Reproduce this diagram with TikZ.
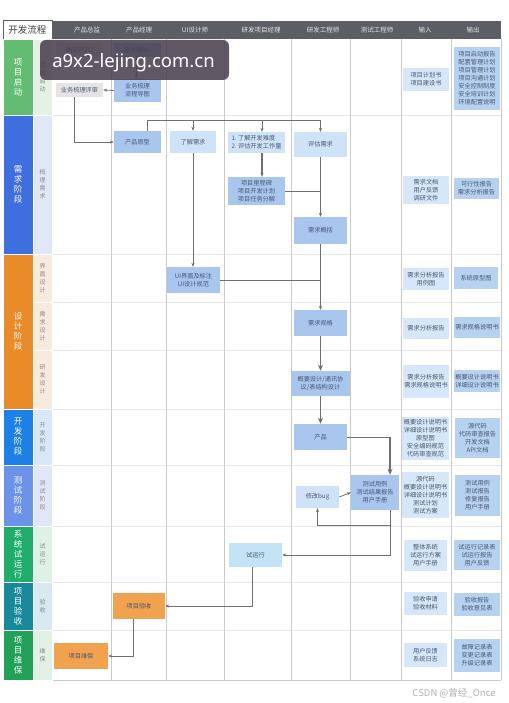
\documentclass[tikz,border=0pt]{standalone}
\usepackage{fontspec}
\newfontfamily\cjk{Noto Sans CJK SC}
\newfontfamily\wmfont{Noto Sans}
\usetikzlibrary{arrows.meta}
\definecolor{hdr}{HTML}{5B5F64}
\definecolor{hdrtxt}{HTML}{E4E4E4}
\definecolor{midb}{HTML}{A9C6EE}
\definecolor{litb}{HTML}{CFE3F8}
\definecolor{inb}{HTML}{D5E7F8}
\definecolor{outb}{HTML}{B7D1F1}
\definecolor{gryb}{HTML}{E4E4E4}
\definecolor{orgb}{HTML}{F0A24E}
\definecolor{txtc}{HTML}{4A5773}
\definecolor{arrc}{HTML}{707070}
\definecolor{trialb}{HTML}{C3E3F6}
\definecolor{gridv}{HTML}{C9C9C9}
\definecolor{gridh}{HTML}{E6E6E6}
\definecolor{subtxt}{HTML}{8A8A8A}
\definecolor{pa}{HTML}{62BD73}\definecolor{sa}{HTML}{E4F1E4}
\definecolor{pb}{HTML}{3F6FDF}\definecolor{sb}{HTML}{E2E7F7}
\definecolor{pc}{HTML}{EA8B2A}\definecolor{sc}{HTML}{F6EBDD}
\definecolor{pd}{HTML}{1D80E6}\definecolor{sd}{HTML}{D9E8F8}
\definecolor{pe}{HTML}{6C93E8}\definecolor{se}{HTML}{E1E7F8}
\definecolor{pf}{HTML}{20AD6B}\definecolor{sf}{HTML}{DDF1E5}
\definecolor{pg}{HTML}{17899A}\definecolor{sg}{HTML}{D8E9F0}
\definecolor{ph}{HTML}{21A057}\definecolor{sh}{HTML}{E1F1E5}
\definecolor{wmbg}{HTML}{4A4150}
\newcommand\bx[7]{\node[#1, minimum width={(#4-#2)*1pt}, minimum height={(#5-#3)*1pt}] (#6) at ({(#2+#4)/2},{(#3+#5)/2}) {#7};}
\tikzset{
  box/.style={inner sep=0pt, align=center, text=txtc, font=\cjk\fontsize{6.2}{8}\selectfont},
  mid/.style={box, fill=midb},
  lit/.style={box, fill=litb},
  inbox/.style={box, fill=inb},
  outbox/.style={box, fill=outb},
  phase/.style={inner sep=0pt, align=center, text=white, draw=white, line width=0.6pt, font=\cjk\fontsize{8.5}{10}\selectfont},
  subph/.style={inner sep=0pt, align=center, text=subtxt, draw=white, line width=0.6pt, font=\cjk\fontsize{6}{8}\selectfont},
  hd/.style={text=hdrtxt, font=\cjk\fontsize{6.5}{7}\selectfont},
  ln/.style={draw=arrc, line width=0.8pt},
  arr/.style={ln, -{Stealth[length=4pt,width=3.2pt]}},
  tarr/.style={draw=arrc, line width=1.5pt, -{Stealth[length=6pt,width=5pt]}},
}
\begin{document}
\begin{tikzpicture}[x=1pt,y=-1pt]
\useasboundingbox (0,0) rectangle (508,703);
\fill[white] (0,0) rectangle (508,703);
% header
\fill[hdr] (52,21) rectangle (501,39);
\node[draw=hdr, fill=white, line width=0.6pt, minimum width=49pt, minimum height=19pt, inner sep=0pt, text=black!75, font=\cjk\fontsize{9.5}{10}\selectfont] (title) at (27.5,30) {开发流程};
\node[hd] (h1) at (87,30) {产品总监};
\node[hd] (h2) at (139,30) {产品经理};
\node[hd] (h3) at (195,30) {UI设计师};
\node[hd] (h4) at (261,30) {研发项目经理};
\node[hd] (h5) at (323,30) {研发工程师};
\node[hd] (h6) at (377,30) {测试工程师};
\node[hd] (h7) at (425,30) {输入};
\node[hd] (h8) at (473,30) {输出};
% grid
\foreach \y in {115,254,302,350,409,465,526,582,630}
  \draw[gridh, line width=0.7pt] (52,\y) -- (501,\y);
\draw[gridv, line width=0.7pt] (52,680) -- (501,680);
\foreach \x in {52,111,166,224,291,350,401,451,501}
  \draw[gridv, line width=0.8pt] (\x,39) -- (\x,680);
% phases
\bx{phase,fill=pa}{3}{39}{33}{115}{ph1}{项\\目\\启\\动}
\bx{phase,fill=pb}{3}{115}{33}{254}{ph2}{需\\求\\阶\\段}
\bx{phase,fill=pc}{3}{254}{33}{409}{ph3}{设\\计\\阶\\段}
\bx{phase,fill=pd}{3}{409}{33}{465}{ph4}{开\\发\\阶\\段}
\bx{phase,fill=pe}{3}{465}{33}{526}{ph5}{测\\试\\阶\\段}
\bx{phase,fill=pf}{3}{526}{33}{582}{ph6}{系\\统\\试\\运\\行}
\bx{phase,fill=pg}{3}{582}{33}{630}{ph7}{项\\目\\验\\收}
\bx{phase,fill=ph}{3}{630}{33}{680}{ph8}{项\\目\\维\\保}
\bx{subph,fill=sa}{33}{39}{52}{115}{sp1}{项\\目\\启\\动}
\bx{subph,fill=sb}{33}{115}{52}{254}{sp2}{梳\\理\\需\\求}
\bx{subph,fill=sc}{33}{254}{52}{302}{sp3}{界\\面\\设\\计}
\bx{subph,fill=sc}{33}{302}{52}{350}{sp4}{需\\求\\设\\计}
\bx{subph,fill=sc}{33}{350}{52}{409}{sp5}{研\\发\\设\\计}
\bx{subph,fill=sd}{33}{409}{52}{465}{sp6}{开\\发\\阶\\段}
\bx{subph,fill=se}{33}{465}{52}{526}{sp7}{测\\试\\阶\\段}
\bx{subph,fill=sf}{33}{526}{52}{582}{sp8}{试\\运\\行}
\bx{subph,fill=sg}{33}{582}{52}{630}{sp9}{验\\收}
\bx{subph,fill=sh}{33}{630}{52}{680}{sp10}{维\\保}
% start phase
\bx{box,fill=gryb}{56}{43}{103}{57}{qdcp}{确定产品/}
\bx{mid}{114}{43}{161}{57}{xqdy}{需求调研/}
\bx{mid}{114}{79}{161}{102}{ywsl}{业务梳理\\流程导图}
\bx{box,fill=gryb}{56}{83}{103}{97}{ywps}{业务梳理评审}
% requirement phase
\bx{mid}{114}{131}{161}{153}{cpyx}{产品原型}
\bx{lit}{170}{131}{216}{153}{ljxq}{了解需求}
\bx{lit}{228}{132}{285}{153}{kfnd}{\begin{tabular}{@{}l@{}}1.\ 了解开发难度\\2.\ 评估开发工作量\end{tabular}}
\bx{mid}{228}{177}{285}{205}{lcb}{项目里程碑\\项目开发计划\\项目任务分解}
\bx{lit}{294}{132}{347}{157}{pgxq}{评估需求}
\bx{mid}{294}{217}{347}{244}{xqgk}{需求概括}
% design phase
\bx{mid}{167}{267}{220}{293}{uijm}{UI界面及标注\\UI设计规范}
\bx{mid}{294}{310}{347}{336}{xqgg}{需求规格}
\bx{mid}{291}{371}{350}{396}{gysj}{概要设计/通讯协\\议/表结构设计}
% development / test
\bx{mid}{294}{424}{347}{450}{cp}{产品}
\bx{mid}{351}{475}{399}{510}{csyl}{测试用例\\测试结果报告\\用户手册}
\bx{lit}{296}{486}{339}{508}{xgbug}{修改bug}
\bx{box,fill=trialb}{229}{543}{282}{567}{syx}{试运行}
\bx{box,fill=orgb}{113}{593}{165}{619}{xmys}{项目验收}
\bx{box,fill=orgb}{54}{643}{108}{669}{xmwb}{项目维保}
% inputs
\bx{inbox}{403}{68}{449}{91}{in1}{项目计划书\\项目建设书}
\bx{inbox}{403}{176}{449}{204}{in2}{需求文档\\用户反馈\\调研文件}
\bx{inbox}{403}{268}{449}{290}{in3}{需求分析报告\\用例图}
\bx{inbox}{403}{318}{449}{339}{in4}{需求分析报告}
\bx{inbox}{403}{365}{449}{398}{in5}{需求分析报告\\需求规格说明书}
\bx{inbox}{402}{417}{449}{460}{in6}{概要设计说明书\\详细设计说明书\\原型图\\安全编码规范\\代码审查规范}
\bx{inbox}{402}{472}{449}{518}{in7}{源代码\\概要设计说明书\\详细设计说明书\\测试计划\\测试方案}
\bx{inbox}{404}{540}{447}{571}{in8}{整体系统\\试运行方案\\用户手册}
\bx{inbox}{404}{592}{447}{615}{in9}{验收申请\\验收材料}
\bx{inbox}{404}{643}{447}{667}{in10}{用户反馈\\系统日志}
% outputs
\bx{outbox}{454}{47}{500}{110}{out1}{项目启动报告\\配置管理计划\\项目管理计划\\项目沟通计划\\安全控制制度\\安全培训计划\\环境配置说明}
\bx{outbox}{454}{178}{499}{199}{out2}{可行性报告\\需求分析报告}
\bx{outbox}{454}{267}{498}{289}{out3}{系统原型图}
\bx{outbox}{454}{317}{500}{338}{out4}{需求规格说明书}
\bx{outbox}{454}{370}{500}{392}{out5}{概要设计说明书\\详细设计说明书}
\bx{outbox}{455}{418}{500}{458}{out6}{源代码\\代码审查报告\\开发文档\\API文档}
\bx{outbox}{455}{475}{500}{516}{out7}{测试用例\\测试报告\\修复报告\\用户手册}
\bx{outbox}{454}{540}{500}{570}{out8}{试运行记录表\\试运行报告\\用户反馈}
\bx{outbox}{454}{593}{500}{616}{out9}{验收报告\\验收意见表}
\bx{outbox}{454}{639}{500}{672}{out10}{故障记录表\\变更记录表\\升级记录表}
% connectors
\coordinate (topln) at (0,120);
\draw[arr] ([xshift=-1.5pt]xqdy.south) -- ([xshift=-1.5pt]ywsl.north);
\draw[arr] (ywsl.west) -- (ywps.east);
\draw[arr] ([xshift=-5pt]ywps.south) |- (cpyx.west);
\draw[ln] ([xshift=10pt]cpyx.north) -- ([xshift=10pt]cpyx.north |- topln) -- (pgxq.north |- topln);
\draw[arr] (ljxq.north |- topln) -- (ljxq.north);
\draw[arr] ([xshift=5.5pt]kfnd.north |- topln) -- ([xshift=5.5pt]kfnd.north);
\draw[arr] (pgxq.north |- topln) -- (pgxq.north);
\draw[arr, line width=1.1pt] ([xshift=5.5pt]kfnd.south) -- ([xshift=5.5pt]lcb.north);
\draw[ln] (lcb.east) -- (lcb.east -| pgxq.south);
\draw[arr] (pgxq.south) -- (xqgk.north);
\draw[arr] (xqgk.south) -- (xqgg.north);
\draw[arr] (ljxq.south) -- (ljxq.south |- uijm.north);
\draw[ln] (uijm.east) -- (uijm.east -| xqgg.north);
\draw[tarr] (xqgg.south) -- (xqgg.south |- gysj.north);
\draw[tarr] (gysj.south) -- (gysj.south |- cp.north);
\coordinate (cpturn) at ([xshift=15pt]csyl.north |- cp.east);
\draw[ln] (cp.east) -- (cpturn);
\draw[tarr, line width=1.2pt] (cpturn) -- ([xshift=15pt]csyl.north);
\draw[arr] (xgbug.east) -- (csyl.west);
\draw[arr] ([xshift=15pt]csyl.south) -- ++(0,15) -| (xgbug.south);
\draw[arr] ([xshift=15pt]csyl.south) |- (syx.east);
\draw[arr] ([xshift=-3pt]syx.south) |- (xmys.east);
\draw[arr] ([xshift=-6pt]xmys.south) |- (xmwb.east);
% watermarks
\node[fill=wmbg, fill opacity=0.88, text opacity=1, text=white, rounded corners=6pt, minimum width=189pt, minimum height=40pt, inner sep=0pt] (wm) at (134.5,60) {};
\node[text=white, inner sep=0pt, font=\wmfont\fontsize{18.5}{20}\selectfont] (wmtxt) at (133.5,63) {a9x2-lejing.com.cn};
\node[text=black!30, font=\cjk\fontsize{9.5}{10}\selectfont] (csdn) at (454,693) {CSDN @曾经\_Once};
\end{tikzpicture}
\end{document}
